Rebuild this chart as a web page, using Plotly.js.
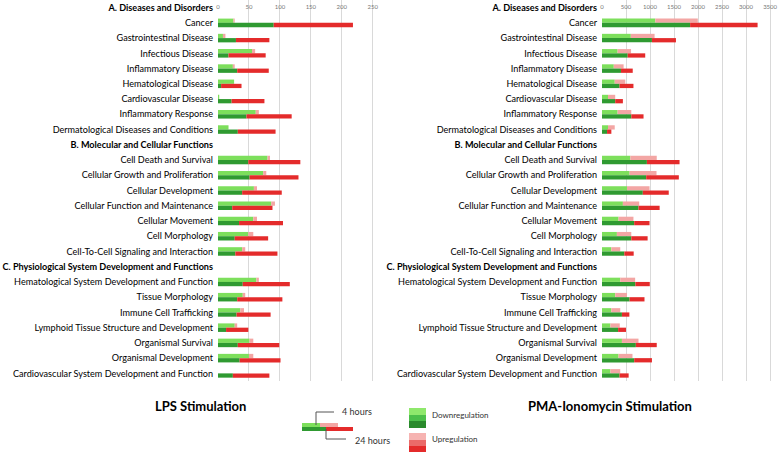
<!DOCTYPE html>
<html><head><meta charset="utf-8">
<script src="https://cdn.plot.ly/plotly-3.0.1.min.js"></script>
<style>html,body{margin:0;padding:0;background:#fff}</style>
</head><body><div id="chart" style="width:778px;height:454px"></div>
<script>
// Row order on the category axis (section headers included)
const rowOrder = [
  "A. Diseases and Disorders",
  "Cancer", "Gastrointestinal Disease", "Infectious Disease", "Inflammatory Disease",
  "Hematological Disease", "Cardiovascular Disease", "Inflammatory Response",
  "Dermatological Diseases and Conditions",
  "B. Molecular and Cellular Functions",
  "Cell Death and Survival", "Cellular Growth and Proliferation", "Cellular Development",
  "Cellular Function and Maintenance", "Cellular Movement", "Cell Morphology",
  "Cell-To-Cell Signaling and Interaction",
  "C. Physiological System Development and Functions",
  "Hematological System Development and Function", "Tissue Morphology",
  "Immune Cell Trafficking", "Lymphoid Tissue Structure and Development",
  "Organismal Survival", "Organismal Development",
  "Cardiovascular System Development and Function"
];
const sectionHeaders = ["A. Diseases and Disorders", "B. Molecular and Cellular Functions",
  "C. Physiological System Development and Functions"];
const categories = rowOrder.filter(r => !sectionHeaders.includes(r));

// LPS stimulation (number of genes)
const lpsDown4h  = [25, 8, 55, 24, 26, 2, 61, 17, 80, 73, 58, 86, 57, 49, 39, 62, 40, 36, 27, 51, 50, 0];
const lpsUp4h    = [2, 4, 5, 3, 0, 0, 5, 0, 4, 5, 5, 6, 6, 8, 5, 4, 4, 6, 4, 6, 7, 0];
const lpsDown24h = [90, 29, 17, 31, 5, 22, 46, 32, 49, 51, 39, 23, 34, 27, 28, 40, 31, 30, 13, 32, 35, 24];
const lpsUp24h   = [128, 54, 60, 51, 33, 53, 73, 61, 84, 79, 64, 65, 71, 54, 68, 76, 73, 55, 36, 67, 66, 59];

// PMA-Ionomycin stimulation
const pmaDown4h  = [1110, 600, 325, 245, 265, 125, 325, 125, 590, 575, 520, 435, 345, 310, 195, 380, 275, 195, 175, 415, 345, 175];
const pmaUp4h    = [885, 495, 280, 205, 220, 150, 285, 140, 550, 560, 470, 340, 310, 300, 185, 310, 245, 185, 195, 345, 290, 205];
const pmaDown24h = [1835, 1040, 535, 395, 365, 275, 610, 105, 935, 920, 850, 760, 670, 610, 465, 695, 575, 415, 335, 705, 670, 365];
const pmaUp24h   = [1405, 500, 365, 245, 290, 160, 255, 90, 680, 680, 540, 440, 320, 340, 195, 300, 310, 155, 165, 435, 370, 190];

const lpsTicks = [0, 50, 100, 150, 200, 250];
const pmaTicks = [0, 500, 1000, 1500, 2000, 2500, 3000, 3500];

const W = 778, H = 454;
const px = x => x / W, py = y => 1 - y / H;

const C = {down4: '#7ddf5c', up4: '#f3a6a4', down24: '#2f9a31', up24: '#e42b2b'};
const FONT = 'Lato, "Open Sans", sans-serif';

function panel(d4, u4, d24, u24, xa, ya) {
  const mk = (x, base, color, grp) => ({
    type: 'bar', orientation: 'h', y: categories, x: x, base: base,
    offsetgroup: grp, xaxis: xa, yaxis: ya,
    marker: {color: color, line: {width: 0}}, hoverinfo: 'x+y', showlegend: false
  });
  return [
    mk(d4, undefined, C.down4, 'h4'),
    mk(u4, d4, C.up4, 'h4'),
    mk(d24, undefined, C.down24, 'h24'),
    mk(u24, d24, C.up24, 'h24')
  ];
}

const data = [
  ...panel(lpsDown4h, lpsUp4h, lpsDown24h, lpsUp24h, 'x', 'y'),
  ...panel(pmaDown4h, pmaUp4h, pmaDown24h, pmaUp24h, 'x2', 'y2')
];

const tickText = rowOrder.map(r => sectionHeaders.includes(r) ? '<b>' + r + '</b>' : r);
const yBase = {
  type: 'category', categoryorder: 'array', categoryarray: rowOrder,
  range: [rowOrder.length - 0.5, -0.5], tickmode: 'array', tickvals: rowOrder, ticktext: tickText,
  showgrid: false, zeroline: false, ticks: '', showline: false, ticklabeloverflow: 'allow',
  ticklabelstandoff: 4,
  tickfont: {family: FONT, size: 9.1, color: '#000'},
  domain: [py(381), 1]
};
const xBase = {
  side: 'top', ticklabelposition: 'inside', ticklabeloverflow: 'allow', ticklabelstandoff: 2,
  showline: false, zeroline: false, ticks: '',
  gridcolor: '#d9d9d9', gridwidth: 1, tickfont: {family: FONT, size: 6, color: '#777'}
};

const shapes = [];
const rect = (x0, y0, x1, y1, color) => shapes.push({type: 'rect', xref: 'paper', yref: 'paper',
  x0: px(x0), x1: px(x1), y0: py(y1), y1: py(y0), fillcolor: color, line: {width: 0}});
const line = (x0, y0, x1, y1) => shapes.push({type: 'line', xref: 'paper', yref: 'paper',
  x0: px(x0), x1: px(x1), y0: py(y0), y1: py(y1), line: {color: '#555', width: 1}});

// mini bar illustration
rect(302, 423, 320, 427, C.down4);
rect(320, 423, 338, 427, C.up4);
rect(302, 427, 326, 431, C.down24);
rect(326, 427, 353, 431, C.up24);
line(316, 425, 316, 412); line(316, 412, 334, 412);
line(326, 429, 326, 439); line(326, 439, 346, 439);
// swatches
rect(409, 408, 426, 415, '#8fe86c'); rect(409, 415, 426, 421, '#4cbf4a'); rect(409, 421, 426, 428, '#2a8a2c');
rect(409, 433, 426, 440, '#f6b3b1'); rect(409, 440, 426, 446, '#eb6a69'); rect(409, 446, 426, 452, '#e42b2b');

const ann = (text, x, y, size, anchor, bold) => ({
  text: bold ? '<b>' + text + '</b>' : text, x: px(x), y: py(y), xref: 'paper', yref: 'paper',
  xanchor: anchor, yanchor: 'middle', showarrow: false,
  font: {family: FONT, size: size, color: bold ? '#000' : '#333'}
});

const layout = {
  width: W, height: H, margin: {l: 0, r: 0, t: 0, b: 0},
  paper_bgcolor: '#fff', plot_bgcolor: '#fff',
  barmode: 'group', bargap: 0.44, bargroupgap: 0,
  xaxis: {...xBase, domain: [px(218), px(374)], range: [0, 252], tickvals: lpsTicks},
  yaxis: {...yBase, anchor: 'x'},
  xaxis2: {...xBase, domain: [px(602), px(772)], range: [0, 3540], tickvals: pmaTicks, anchor: 'y2'},
  yaxis2: {...yBase, anchor: 'x2'},
  shapes: shapes,
  annotations: [
    ann('LPS Stimulation', 200, 406, 13, 'center', true),
    ann('PMA-Ionomycin Stimulation', 610, 406, 13, 'center', true),
    ann('4 hours', 340, 411, 9, 'left', false),
    ann('24 hours', 353, 440, 9, 'left', false),
    ann('Downregulation', 430, 415, 8, 'left', false),
    ann('Upregulation', 430, 439, 8, 'left', false)
  ],
  showlegend: false
};

Plotly.newPlot('chart', data, layout, {staticPlot: true});
</script></body></html>
